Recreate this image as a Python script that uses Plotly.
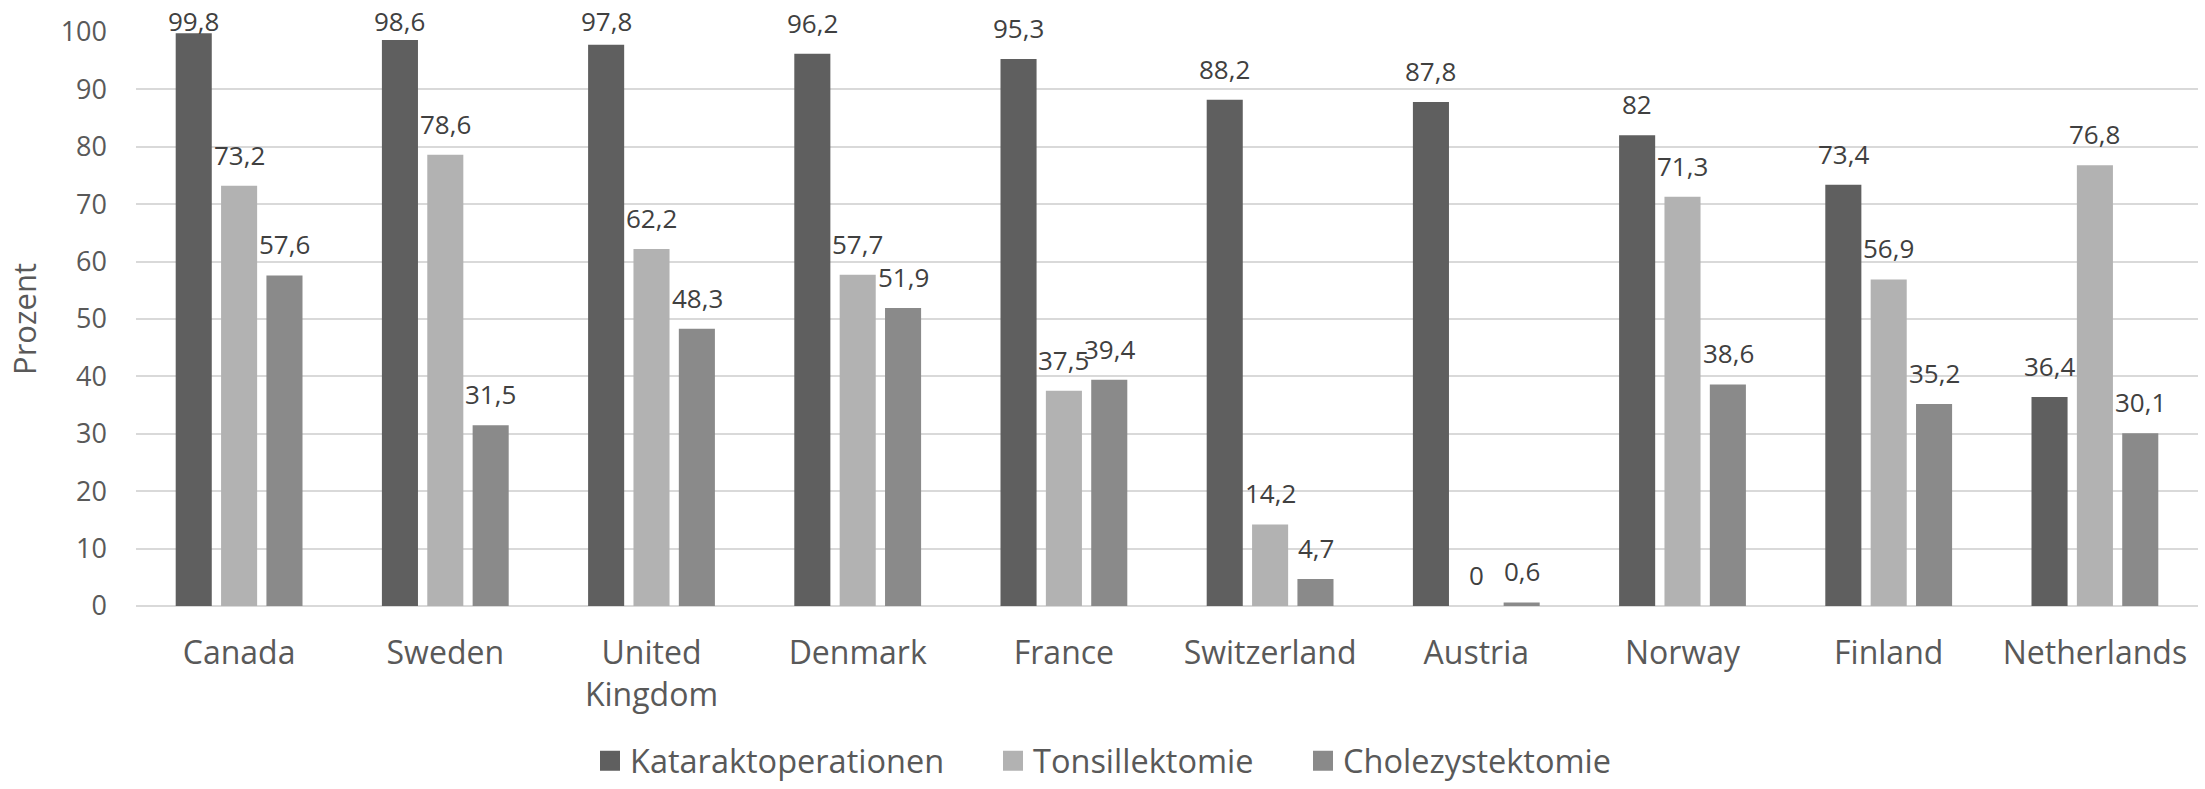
import plotly.graph_objects as go

# Countries and surgery shares (percent)
countries = ["Canada", "Sweden", "United<br>Kingdom", "Denmark", "France",
             "Switzerland", "Austria", "Norway", "Finland", "Netherlands"]
katarakt = [99.8, 98.6, 97.8, 96.2, 95.3, 88.2, 87.8, 82, 73.4, 36.4]
tonsill = [73.2, 78.6, 62.2, 57.7, 37.5, 14.2, 0, 71.3, 56.9, 76.8]
cholezyst = [57.6, 31.5, 48.3, 51.9, 39.4, 4.7, 0.6, 38.6, 35.2, 30.1]

series_names = ["Kataraktoperationen", "Tonsillektomie", "Cholezystektomie"]
series_values = [katarakt, tonsill, cholezyst]
series_colors = ["#5f5f5f", "#b2b2b2", "#8a8a8a"]

W, H = 2205, 789
M_L, M_R, M_T, M_B = 136, 7, 32, 183
BAR_STEP_PX = 45.5          # centre-to-centre distance of bars within a group
LABEL_GAP = 3.5             # label lift above bar end, in axis units
LABEL_CAP = 100             # labels never rise above the top gridline


def fmt(v):
    return f"{v:g}".replace(".", ",")


fig = go.Figure()
legend_ids = ["legend", "legend2", "legend3"]
for i, (name, vals, col) in enumerate(zip(series_names, series_values, series_colors)):
    fig.add_trace(go.Bar(
        x=countries, y=vals, name=name, marker_color=col,
        marker_line_width=0, showlegend=False, cliponaxis=False,
    ))
    # legend entry with a larger square swatch
    fig.add_trace(go.Scatter(
        x=[None], y=[None], mode="markers", name=name,
        marker=dict(symbol="square", size=16, color=col,
                    line=dict(width=4, color=col)),
        legend=legend_ids[i], showlegend=True,
    ))

# value labels above each bar
annotations = []
for i, vals in enumerate(series_values):
    for c, v in zip(countries, vals):
        annotations.append(dict(
            x=c, y=min(v + LABEL_GAP, LABEL_CAP), xref="x", yref="y",
            text=fmt(v), showarrow=False, yanchor="bottom",
            xshift=(i - 1) * BAR_STEP_PX, yshift=-9,
            font=dict(family="Open Sans", size=26, color="#404040"),
        ))

legend_lefts = [590, 993, 1303]
legend_common = dict(
    orientation="h", xref="container", yref="container",
    xanchor="left", yanchor="bottom", y=-0.007,
    font=dict(family="Open Sans", size=32.5, color="#595959"),
    bgcolor="rgba(0,0,0,0)", itemsizing="trace",
)

fig.update_layout(
    width=W, height=H,
    margin=dict(l=M_L, r=M_R, t=M_T, b=M_B, pad=0),
    paper_bgcolor="white", plot_bgcolor="white",
    barmode="group", bargap=0.34, bargroupgap=0.205,
    font=dict(family="Open Sans", color="#595959"),
    annotations=annotations,
    legend=dict(x=legend_lefts[0] / W, **legend_common),
    legend2=dict(x=legend_lefts[1] / W, **legend_common),
    legend3=dict(x=legend_lefts[2] / W, **legend_common),
    xaxis=dict(
        type="category", showgrid=False, ticks="", showline=False,
        tickfont=dict(family="Open Sans", size=32, color="#595959"),
        ticklabelstandoff=25,
    ),
    yaxis=dict(
        range=[0, 100], dtick=10, tick0=0,
        showgrid=True, gridcolor="#d9d9d9", gridwidth=1.5,
        zeroline=True, zerolinecolor="#d9d9d9", zerolinewidth=1.5,
        showline=False, ticks="",
        tickfont=dict(family="Open Sans", size=27, color="#595959"),
        ticklabelstandoff=28,
        title=dict(text="Prozent", standoff=14,
                   font=dict(family="Open Sans", size=31, color="#595959")),
    ),
)

fig.write_html("out.html")
